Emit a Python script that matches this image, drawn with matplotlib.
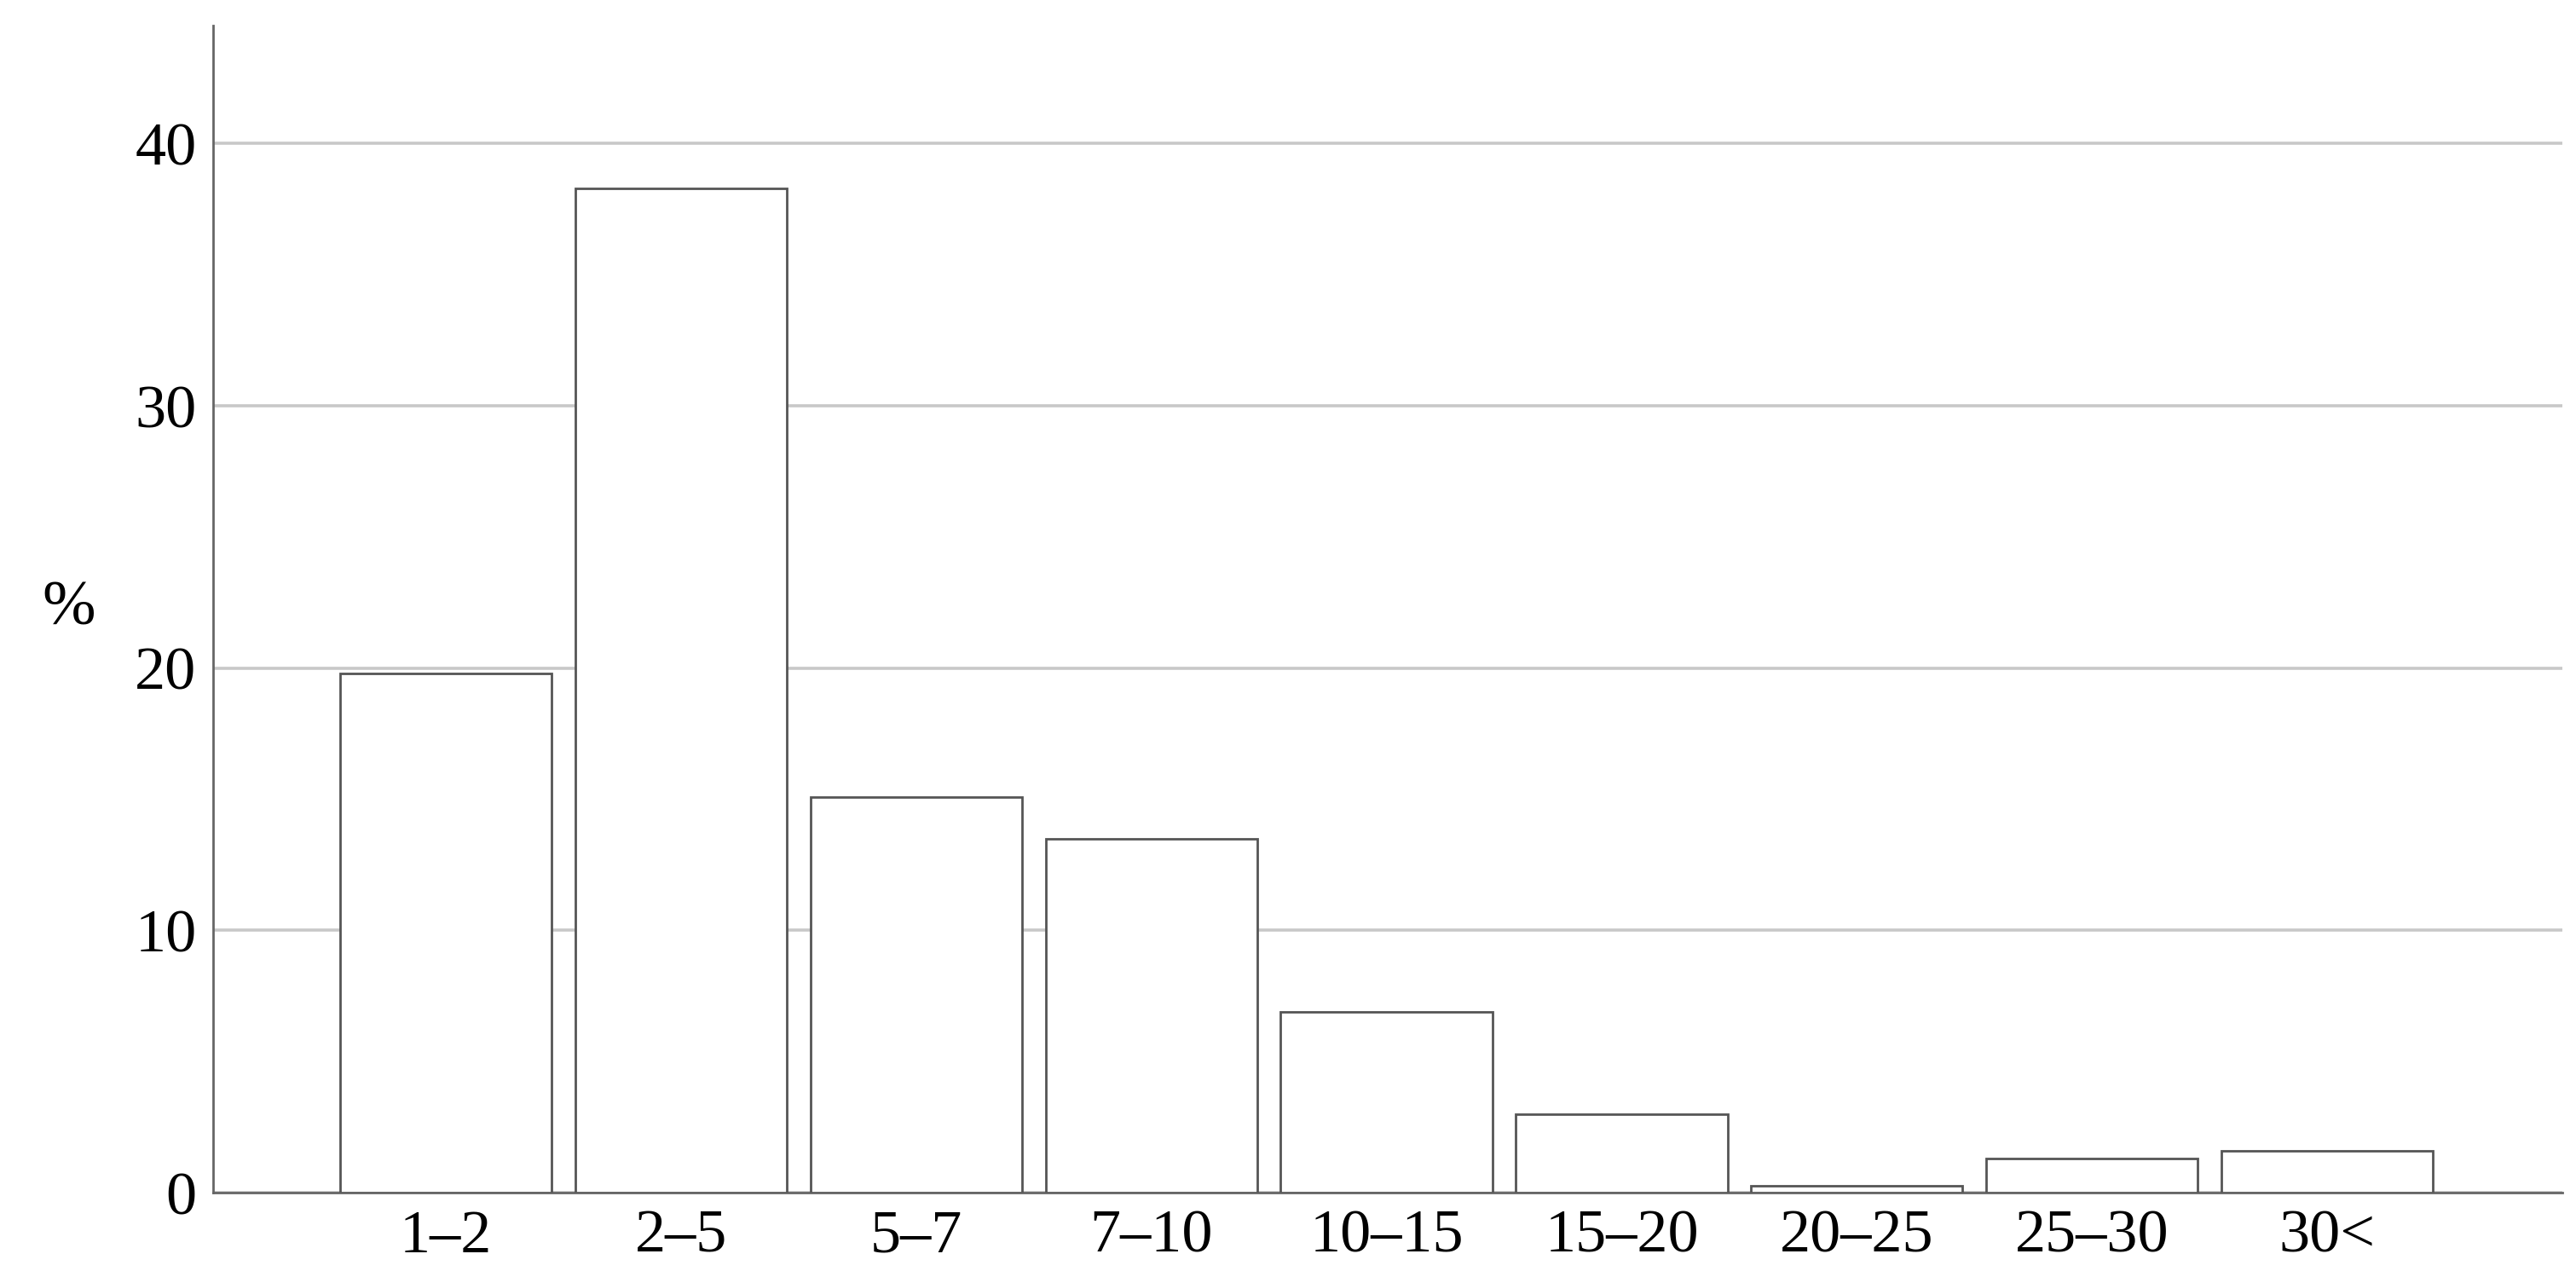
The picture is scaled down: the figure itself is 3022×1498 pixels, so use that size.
import matplotlib.pyplot as plt

plt.rcParams['font.family'] = ['Liberation Serif', 'DejaVu Serif']

# size classes and share of cases (%)
categories = ['1–2', '2–5', '5–7', '7–10', '10–15', '15–20', '20–25', '25–30', '30<']
shares = [19.8, 38.3, 15.1, 13.5, 6.9, 3.0, 0.25, 1.3, 1.6]
yticks = [0, 10, 20, 30, 40]

fig, ax = plt.subplots(figsize=(15.11, 7.49), dpi=200)
fig.subplots_adjust(left=0.0827, right=0.9947, top=0.98, bottom=0.066)

x = range(len(categories))
ax.bar(x, shares, width=0.9, color='white', edgecolor='#555555', linewidth=1.0, zorder=3)

ax.set_xlim(-0.99, 9.0)
ax.set_ylim(0, 44.5)
ax.set_yticks(yticks)
ax.set_xticks(list(x))
ax.set_xticklabels(categories)
ax.yaxis.grid(True, color='#c8c8c8', linewidth=1.3, zorder=0)
ax.set_axisbelow(True)

for side in ['top', 'right']:
    ax.spines[side].set_visible(False)
for side in ['left', 'bottom']:
    ax.spines[side].set_color('#666666')
    ax.spines[side].set_linewidth(1.0)

ax.tick_params(axis='both', length=0, labelsize=26, pad=7)
ax.set_ylabel('%', rotation=0, fontsize=27, labelpad=28, va='center')

plt.savefig('out.png', dpi=200)
